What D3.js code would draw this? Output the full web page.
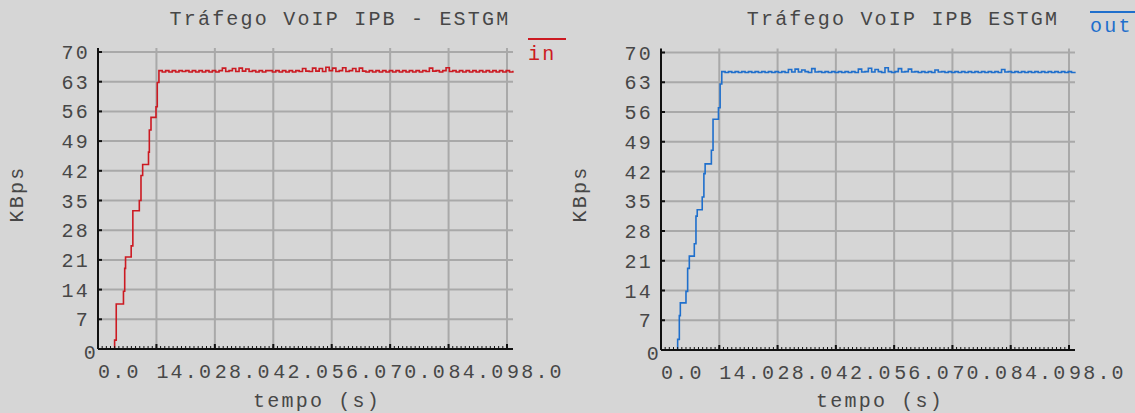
<!DOCTYPE html>
<html>
<head>
<meta charset="utf-8">
<script src="https://cdn.jsdelivr.net/npm/d3@7"></script>
<style>
  html, body { margin: 0; padding: 0; background: #d6d6d6; }
  svg { display: block; }
  text { font-family: "Courier New", "Liberation Mono", monospace; font-size: 20px; letter-spacing: 2.2px; fill: #474747; }
</style>
</head>
<body>
<svg id="chart" width="1135" height="413"></svg>
<script>
// Axis ticks
const yTicks = [0, 7, 14, 21, 28, 35, 42, 49, 56, 63, 70];
const xTicks = [0, 14, 28, 42, 56, 70, 84, 98];
const xTickLabels = ["0.0", "14.0", "28.0", "42.0", "56.0", "70.0", "84.0", "98.0"];

// Plateau samples are taken every 0.8 s starting at 14.6 s
const plateauStart = 14.6;
const plateauStep = 0.8;

// Incoming traffic (KBps): ramp-up samples, then steady state
const inRiseTime = [3.7, 3.98, 4.37, 6.1, 6.4, 6.6, 7.95, 8.35, 9.9, 10.3, 10.7, 12.1, 12.3, 12.7, 13.9, 14.2];
const inRiseKBps = [0, 2.1, 10.6, 13.6, 19.0, 21.7, 24.3, 32.6, 35.0, 40.9, 43.5, 46.4, 51.6, 54.6, 57.1, 62.8];
const inPlateauKBps = [
  65.6, 65.3, 65.6, 65.3, 65.6, 65.3, 65.6, 65.4, 65.6, 65.3,
  65.6, 65.3, 65.6, 65.3, 65.6, 65.3, 65.6, 65.3, 65.6, 66.2,
  65.4, 65.6, 66.1, 65.4, 66.2, 65.5, 66.0, 65.4, 65.6, 65.3,
  65.6, 65.3, 65.6, 65.6, 65.3, 65.6, 65.3, 65.6, 65.3, 65.6,
  65.3, 65.6, 65.4, 66.1, 65.5, 65.4, 66.2, 65.5, 66.1, 65.4,
  66.4, 65.6, 66.2, 65.4, 65.6, 66.3, 65.4, 65.6, 66.1, 65.4,
  66.2, 65.5, 65.3, 65.6, 65.3, 65.6, 65.3, 65.6, 65.3, 65.6,
  65.3, 65.6, 65.3, 65.6, 65.3, 65.6, 65.3, 65.6, 65.3, 65.6,
  65.4, 66.2, 65.5, 65.6, 65.3, 65.6, 66.3, 65.4, 65.6, 65.3,
  65.6, 65.3, 65.6, 65.3, 65.6, 65.3, 65.6, 65.3, 65.6, 65.3,
  65.6, 65.3, 65.6, 65.3, 65.6, 65.3, 65.6
];

// Outgoing traffic (KBps)
const outRiseTime = [3.7, 4.0, 4.4, 4.64, 6.0, 6.4, 6.8, 8.0, 8.4, 8.7, 9.9, 10.3, 10.6, 12.1, 12.5, 13.8, 14.2];
const outRiseKBps = [0, 2.5, 8.1, 11.1, 13.8, 19.2, 22.1, 25.0, 31.5, 33.0, 36.0, 41.5, 43.8, 47.0, 54.3, 57.0, 62.6];
const outPlateauKBps = [
  65.5, 65.3, 65.5, 65.3, 65.5, 65.3, 65.5, 65.3, 65.5, 65.3,
  65.5, 65.3, 65.5, 65.3, 65.5, 65.3, 65.5, 65.3, 65.5, 65.3,
  66.0, 65.4, 66.1, 65.4, 65.9, 65.5, 65.3, 66.2, 65.4, 65.5,
  65.3, 65.5, 65.3, 65.5, 65.3, 65.5, 65.3, 65.5, 65.3, 65.5,
  65.3, 66.1, 65.4, 65.5, 66.3, 65.4, 66.0, 65.5, 65.3, 66.4,
  65.5, 65.3, 65.5, 66.2, 65.4, 65.5, 66.1, 65.4, 65.5, 65.3,
  65.5, 65.3, 65.5, 65.3, 65.9, 65.4, 65.5, 65.3, 65.5, 65.3,
  65.5, 65.3, 65.5, 65.3, 65.5, 65.3, 65.5, 65.3, 65.5, 65.3,
  65.5, 65.3, 65.5, 65.3, 66.0, 65.4, 65.5, 65.3, 65.5, 65.3,
  65.5, 65.3, 65.5, 65.3, 65.5, 65.3, 65.5, 65.3, 65.5, 65.3,
  65.5, 65.3, 65.5, 65.3, 65.5, 65.3, 65.5
];

function toSeries(riseTime, riseVal, plateau) {
  const pts = riseTime.map((t, i) => [t, riseVal[i]]);
  plateau.forEach((v, k) => pts.push([plateauStart + k * plateauStep, v]));
  return pts;
}

const svg = d3.select("#chart");

const panels = [
  {
    title: "Tráfego VoIP IPB - ESTGM", name: "in", color: "#cc1a22",
    x0: 98, x1: 507, y0: 349, y1: 52,
    legend: { x: 528, lineY: 39, w: 38, textY: 60 },
    data: toSeries(inRiseTime, inRiseKBps, inPlateauKBps)
  },
  {
    title: "Tráfego VoIP IPB ESTGM", name: "out", color: "#1f6fcc",
    x0: 661, x1: 1069, y0: 350, y1: 52.5,
    legend: { x: 1090, lineY: 12, w: 45, textY: 32 },
    data: toSeries(outRiseTime, outRiseKBps, outPlateauKBps)
  }
];

panels.forEach(p => {
  const x = d3.scaleLinear().domain([0, 98]).range([p.x0, p.x1]);
  const y = d3.scaleLinear().domain([0, 70]).range([p.y0, p.y1]);
  const g = svg.append("g");
  const top = y(70) - 4;
  const rightEdge = x(98) + 6;

  // grid
  g.append("g").selectAll("line").data(yTicks.filter(d => d > 0)).join("line")
    .attr("x1", x(0)).attr("x2", rightEdge)
    .attr("y1", d => y(d)).attr("y2", d => y(d))
    .attr("stroke", "#a9a9a9").attr("stroke-width", 2);
  g.append("g").selectAll("line").data(xTicks.filter(d => d > 0)).join("line")
    .attr("x1", d => x(d)).attr("x2", d => x(d))
    .attr("y1", top).attr("y2", y(0))
    .attr("stroke", "#a9a9a9").attr("stroke-width", 2);

  // traffic trace
  const line = d3.line().x(d => x(d[0])).y(d => y(d[1])).curve(d3.curveStepAfter);
  g.append("path").datum(p.data)
    .attr("fill", "none").attr("stroke", p.color).attr("stroke-width", 1.6)
    .attr("d", line);

  // x axis: 1 s minor ticks and 14 s major ticks, pointing up
  g.append("line").attr("x1", x(0)).attr("x2", rightEdge)
    .attr("y1", y(0)).attr("y2", y(0)).attr("stroke", "#111").attr("stroke-width", 2);
  g.append("g").selectAll("line").data(d3.range(0, 99)).join("line")
    .attr("x1", d => x(d)).attr("x2", d => x(d))
    .attr("y1", y(0)).attr("y2", y(0) - 3)
    .attr("stroke", "#111").attr("stroke-width", 1);
  g.append("g").selectAll("line").data(xTicks).join("line")
    .attr("x1", d => x(d)).attr("x2", d => x(d))
    .attr("y1", y(0)).attr("y2", y(0) - 5)
    .attr("stroke", "#111").attr("stroke-width", 2);
  g.append("g").selectAll("text").data(xTicks).join("text")
    .attr("x", d => x(d)).attr("y", y(0) + 29)
    .attr("text-anchor", "start")
    .text((d, i) => xTickLabels[i]);

  // y axis
  g.append("line").attr("x1", x(0)).attr("x2", x(0))
    .attr("y1", top).attr("y2", y(0)).attr("stroke", "#111").attr("stroke-width", 2);
  g.append("g").selectAll("line").data(yTicks).join("line")
    .attr("x1", x(0)).attr("x2", x(0) + 4)
    .attr("y1", d => y(d)).attr("y2", d => y(d))
    .attr("stroke", "#111").attr("stroke-width", 2);
  g.append("g").selectAll("text").data(yTicks).join("text")
    .attr("x", d => d === 0 ? x(0) : x(0) - 8)
    .attr("y", d => d === 0 ? y(d) + 10 : y(d) + 7)
    .attr("text-anchor", "end")
    .text(d => d);

  // titles
  g.append("text").attr("x", x(0) + 242).attr("y", 25)
    .attr("text-anchor", "middle").text(p.title);
  g.append("text").attr("x", x(0) + 219).attr("y", 407)
    .attr("text-anchor", "middle").text("tempo (s)");
  g.append("text")
    .attr("transform", `translate(${x(0) - 75},194) rotate(-90)`)
    .attr("text-anchor", "middle").text("KBps");

  // legend
  g.append("line").attr("x1", p.legend.x).attr("x2", p.legend.x + p.legend.w)
    .attr("y1", p.legend.lineY).attr("y2", p.legend.lineY)
    .attr("stroke", p.color).attr("stroke-width", 2);
  g.append("text").attr("x", p.legend.x).attr("y", p.legend.textY)
    .style("fill", p.color).text(p.name);
});
</script>
</body>
</html>
